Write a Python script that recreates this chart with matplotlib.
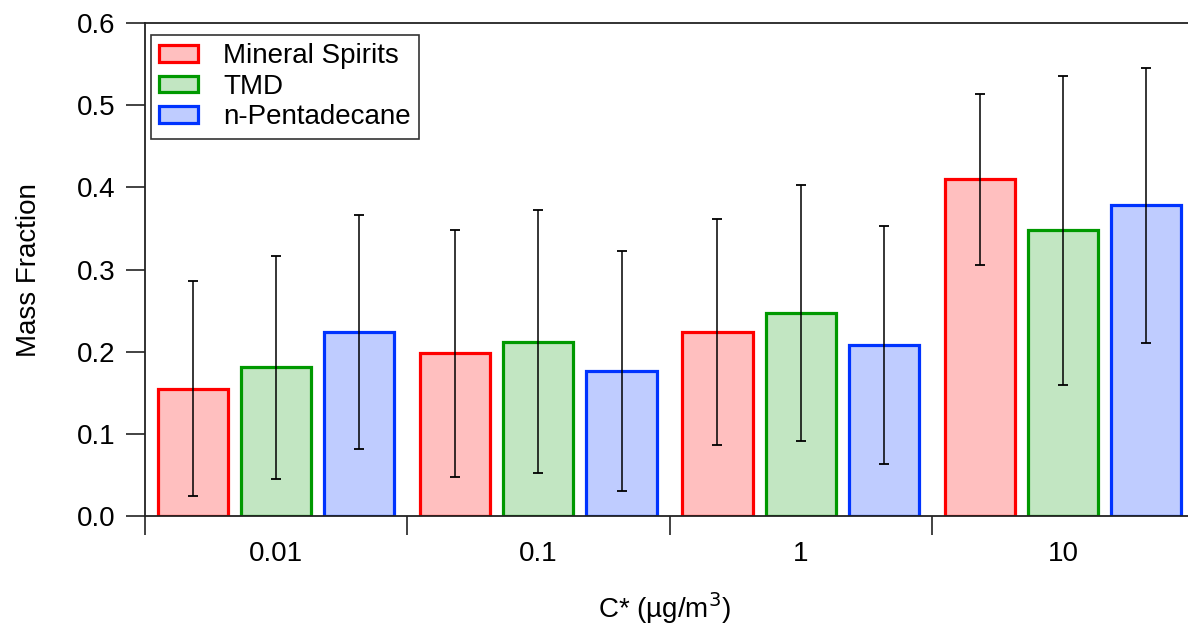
import matplotlib
matplotlib.use("Agg")
import matplotlib.pyplot as plt
from matplotlib.patches import Rectangle
from matplotlib.legend_handler import HandlerPatch
import numpy as np

plt.rcParams['font.family'] = ['Liberation Sans', 'DejaVu Sans']

categories = ["0.01", "0.1", "1", "10"]
series_names = ["Mineral Spirits", "TMD", "n-Pentadecane"]
mineral = [0.155, 0.198, 0.224, 0.410]
tmd = [0.181, 0.212, 0.247, 0.348]
pentadecane = [0.224, 0.177, 0.208, 0.378]
mineral_err = [0.131, 0.150, 0.137, 0.104]
tmd_err = [0.136, 0.160, 0.156, 0.188]
pentadecane_err = [0.142, 0.146, 0.145, 0.167]

values = [mineral, tmd, pentadecane]
errors = [mineral_err, tmd_err, pentadecane_err]
edge_colors = ["#FF0000", "#009900", "#0033FF"]
fill_colors = ["#FFBFBF", "#C2E6C2", "#BFCCFF"]

W, H = 1188, 627
AX_L, AX_R, AX_B, AX_T = 145, 1194, 516, 23
fig = plt.figure(figsize=(W / 100, H / 100), dpi=100)
ax = fig.add_axes([AX_L / W, (H - AX_B) / H, (AX_R - AX_L) / W, (AX_B - AX_T) / H])
aw, ah = AX_R - AX_L, AX_B - AX_T

x = np.arange(len(categories))
offsets = [-0.317, 0.0, 0.317]
bw = 0.267
for vals, errs, off, ec, fc, name in zip(values, errors, offsets, edge_colors, fill_colors, series_names):
    ax.bar(x + off, vals, width=bw, color=fc, edgecolor=ec, linewidth=2.3, label=name, zorder=2)
    ax.errorbar(x + off, vals, yerr=errs, fmt='none', ecolor='black', elinewidth=1.1,
                capsize=3.5, capthick=1.3, zorder=3)

FS = 20
ax.set_xlim(-0.5, len(categories) - 0.5)
ax.set_ylim(0, 0.6)
yt = np.arange(0, 0.61, 0.1)
ax.set_yticks(yt)
ax.set_yticklabels([f"{v:.1f}" for v in yt])
ax.set_xticks(np.arange(-0.5, len(categories) - 0.4, 1.0))
ax.set_xticklabels([])
ax.set_xticks(x, minor=True)
ax.set_xticklabels(categories, minor=True)
ax.tick_params(axis='x', which='major', direction='out', length=14, width=1.2, color='#222222')
ax.tick_params(axis='x', which='minor', length=0, pad=18, labelsize=FS)
ax.tick_params(axis='y', direction='out', length=14, width=1.2, color='#222222', labelsize=FS, pad=7)

for s in ['left', 'top', 'bottom']:
    ax.spines[s].set_linewidth(1.3)
    ax.spines[s].set_color('#222222')
ax.spines['right'].set_visible(False)

ax.set_ylabel("Mass Fraction", fontsize=FS)
ax.yaxis.set_label_coords((42 - AX_L) / aw, (AX_B - 270) / ah)
ax.set_xlabel("C* (µg/m$^{3}$)", fontsize=FS)
ax.xaxis.set_label_coords((665 - AX_L) / aw, -(590 - AX_B) / ah)


def make_patch(legend, orig_handle, xdescent, ydescent, width, height, fontsize):
    pw, ph = 18.0, 11.0  # points
    return Rectangle((-xdescent + width - pw, -ydescent + (height - ph) / 2), pw, ph)


leg = ax.legend(loc='upper left', bbox_to_anchor=((151 - AX_L) / aw, 1 - (35 - AX_T) / ah),
                fontsize=FS, frameon=True, fancybox=False, handlelength=1.4, handleheight=0.55,
                handletextpad=0.9, labelspacing=0.16, borderpad=0.3, borderaxespad=0.0,
                handler_map={Rectangle: HandlerPatch(patch_func=make_patch)})
leg.get_frame().set_edgecolor('black')
leg.get_frame().set_linewidth(1.2)

fig.savefig("out.png", dpi=100)
